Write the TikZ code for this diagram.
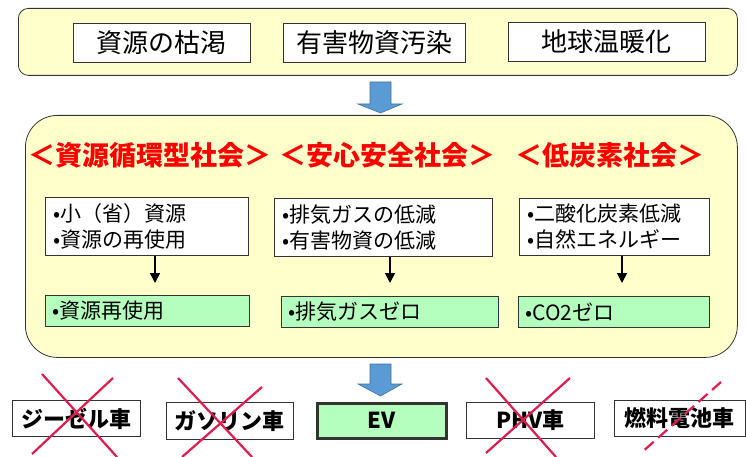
\documentclass[tikz,border=0pt]{standalone}
\usepackage{fontspec}
\setmainfont{Noto Sans CJK JP}
\usetikzlibrary{arrows.meta}
\definecolor{paleyellow}{RGB}{255,255,204}
\definecolor{palegreen}{RGB}{180,255,190}
\definecolor{arrowblue}{RGB}{91,155,213}
\definecolor{arrowedge}{RGB}{65,113,156}
\definecolor{crossred}{RGB}{222,28,78}
\begin{document}
\begin{tikzpicture}[x=1pt,y=-1pt,
  issue/.style={draw=black!80, fill=white, line width=0.8pt, minimum width=178pt, minimum height=39pt, font=\fontsize{26}{28}\selectfont, inner sep=0pt},
  wbox/.style={draw=black!80, fill=white, line width=0.8pt, align=left, anchor=north west, font=\fontsize{21}{26}\selectfont, inner sep=0pt},
  gbox/.style={draw=black!80, fill=palegreen, line width=0.8pt, anchor=north west, font=\fontsize{21}{23}\selectfont, inner sep=0pt},
  head/.style={text=red, font=\bfseries\fontsize{27}{29}\selectfont, inner sep=0pt},
  car/.style={draw=black!80, fill=white, line width=0.8pt, anchor=north west, font=\bfseries\fontsize{22}{24}\selectfont, inner sep=0pt},
  flow/.style={line width=1.6pt, -{Triangle[width=10pt,length=10pt]}},
  cross/.style={crossred, line width=2.2pt},
  bigarrow/.style={fill=arrowblue, draw=arrowedge, line width=0.6pt}
]
\useasboundingbox (0,0) rectangle (746,457);

% top box
\node[draw=black!80, fill=paleyellow, line width=0.8pt, rounded corners=10pt, anchor=north west, minimum width=719pt, minimum height=67pt, inner sep=0pt] (top) at (18,8) {};
\node[issue, minimum width=177pt] (i1) at (161.5,42.5) {資源の枯渇};
\node[issue, minimum width=182pt] (i2) at (374,43) {有害物資汚染};
\node[issue, minimum width=197pt] (i3) at (606.5,42) {地球温暖化};

% arrow 1
\draw[bigarrow] (370,82) -- (391,82) -- (391,104) -- (402,104) -- (380.5,113) -- (358,104) -- (370,104) -- cycle;

% middle box
\node[draw=black!80, fill=paleyellow, line width=0.8pt, rounded corners=32pt, anchor=north west, minimum width=712pt, minimum height=242pt, inner sep=0pt] (mid) at (25,115) {};

\node[head, anchor=west] (h1) at (28,155) {＜資源循環型社会＞};
\node[head, anchor=west] (h2) at (279,155) {＜安心安全社会＞};
\node[head, anchor=west] (h3) at (515,155) {＜低炭素社会＞};

\node[wbox, minimum width=203pt, minimum height=58pt, text width=193pt] (w1) at (45,197) {\hspace*{3pt}•小（省）資源\\\hspace*{3pt}•資源の再使用};
\node[wbox, minimum width=218pt, minimum height=58pt, text width=208pt] (w2) at (274,198) {\hspace*{3pt}•排気ガスの低減\\\hspace*{3pt}•有害物資の低減};
\node[wbox, minimum width=190pt, minimum height=57pt, text width=180pt] (w3) at (519,198) {\hspace*{3pt}•二酸化炭素低減\\\hspace*{3pt}•自然エネルギー};

\node[gbox, minimum width=204pt, minimum height=31pt, text width=196pt] (g1) at (45,295) {\hspace*{3pt}•資源再使用};
\node[gbox, minimum width=217pt, minimum height=31pt, text width=209pt] (g2) at (281,296) {\hspace*{3pt}•排気ガスゼロ};
\node[gbox, minimum width=191pt, minimum height=31pt, text width=183pt] (g3) at (518,296) {\hspace*{3pt}•CO2ゼロ};

\coordinate (t1) at (155,283);
\coordinate (t2) at (390,283);
\coordinate (t3) at (622,283);
\draw[flow] (w1.south -| t1) -- (t1);
\draw[flow] (w2.south -| t2) -- (t2);
\draw[flow] (w3.south -| t3) -- (t3);

% arrow 2
\draw[bigarrow] (370,364) -- (391,364) -- (391,384) -- (402,384) -- (380.5,396) -- (358,384) -- (370,384) -- cycle;

% cars
\node[car, minimum width=128pt, minimum height=36pt] (c1) at (12,400) {ジーゼル車};
\node[car, minimum width=127pt, minimum height=37pt] (c2) at (166,402) {ガソリン車};
\node[car, fill=palegreen, line width=2.6pt, minimum width=129pt, minimum height=35pt] (c3) at (316,402) {EV};
\node[car, minimum width=128pt, minimum height=36pt] (c4) at (466,402) {PHV車};
\node[car, minimum width=131pt, minimum height=36pt] (c5) at (614,400) {燃料電池車};

% crosses
\draw[cross] (42,374) -- (117,457);
\draw[cross] (113,378) -- (32,454);
\draw[cross] (178,378) -- (252,457);
\draw[cross] (262,387) -- (182,457);
\draw[cross] (486,378) -- (556,457);
\draw[cross] (570,378) -- (486,453);
\draw[cross, dash pattern=on 12pt off 6pt] (721,382) -- (641,453);
\end{tikzpicture}
\end{document}
